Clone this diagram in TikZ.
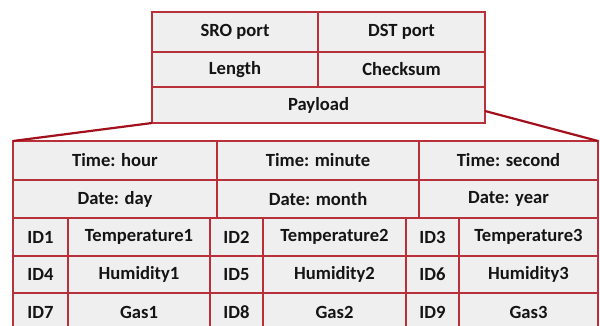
\documentclass[tikz,border=0pt]{standalone}
\usepackage{fontspec}
\setmainfont{Carlito}
\definecolor{frame}{HTML}{B8303A}
\definecolor{link}{HTML}{A3101C}
\definecolor{cellfill}{HTML}{EFEFF0}
\definecolor{txt}{HTML}{141414}
\tikzset{
  cell/.style={draw=frame, fill=cellfill, line width=1.2pt, inner sep=0pt, outer sep=0pt,
    anchor=north west, text=txt, font=\bfseries\fontsize{18.6}{19}\selectfont},
  linkline/.style={draw=link, line width=2.2pt}
}
\newcommand{\mycell}[6]{\node[cell, minimum width=#4pt, minimum height=#5pt] (#1) at (#2,#3) {#6};}
\begin{document}
\begin{tikzpicture}[x=1pt,y=-1pt]
\useasboundingbox (0,0) rectangle (600,326);
\clip (0,0) rectangle (600,326);
\fill[white] (0,0) rectangle (600,326);
% top block
\mycell{sro}{152}{12}{166}{40}{SRO port}
\mycell{dst}{318}{12}{167}{40}{DST port}
\mycell{len}{152}{52}{166}{35}{Length}
\mycell{chk}{318}{52}{167}{35}{Checksum}
\mycell{pay}{152}{87}{333}{36}{Payload}
% table rows 1-2
\mycell{th}{13}{141}{204}{39}{Time: hour}
\mycell{tm}{217}{141}{202}{39}{Time: minute}
\mycell{ts}{419}{141}{179}{39}{Time: second}
\mycell{dd}{13}{180}{204}{38}{Date: day}
\mycell{dm}{217}{180}{202}{38}{Date: month}
\mycell{dy}{419}{180}{179}{38}{Date: year}
% rows 3-5
\mycell{id1}{13}{218}{55}{38}{ID1}
\mycell{t1}{68}{218}{142}{38}{Temperature1}
\mycell{id2}{210}{218}{53}{38}{ID2}
\mycell{t2}{263}{218}{143}{38}{Temperature2}
\mycell{id3}{406}{218}{53}{38}{ID3}
\mycell{t3}{459}{218}{139}{38}{Temperature3}
\mycell{id4}{13}{256}{55}{37}{ID4}
\mycell{h1}{68}{256}{142}{37}{Humidity1}
\mycell{id5}{210}{256}{53}{37}{ID5}
\mycell{h2}{263}{256}{143}{37}{Humidity2}
\mycell{id6}{406}{256}{53}{37}{ID6}
\mycell{h3}{459}{256}{139}{37}{Humidity3}
\mycell{id7}{13}{293}{55}{38}{ID7}
\mycell{g1}{68}{293}{142}{38}{Gas1}
\mycell{id8}{210}{293}{53}{38}{ID8}
\mycell{g2}{263}{293}{143}{38}{Gas2}
\mycell{id9}{406}{293}{53}{38}{ID9}
\mycell{g3}{459}{293}{139}{38}{Gas3}
% links
\draw[linkline] (pay.south west) -- (th.north west);
\draw[linkline] (pay.east |- 0,111) -- (ts.north east);
\end{tikzpicture}
\end{document}
